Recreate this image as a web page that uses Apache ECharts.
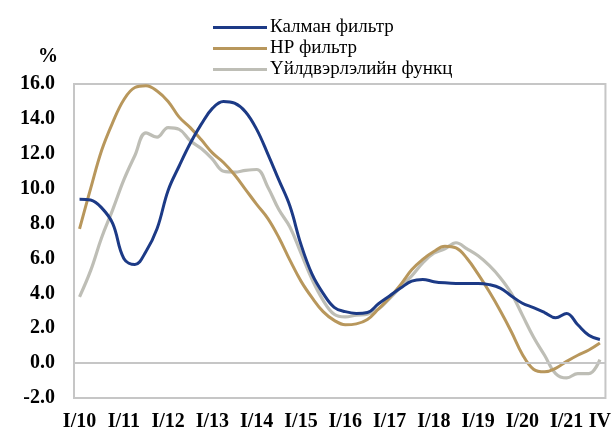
<!DOCTYPE html>
<html>
<head>
<meta charset="utf-8">
<script src="https://cdn.jsdelivr.net/npm/echarts@6/dist/echarts.min.js"></script>
<style>
  html, body { margin: 0; padding: 0; background: #ffffff; }
  #chart { width: 614px; height: 432px; }
</style>
</head>
<body>
<div id="chart"></div>
<script>
// Quarterly periods I/10 ... IV/21
const years = ['10','11','12','13','14','15','16','17','18','19','20','21'];
const quarterNames = ['I', 'II', 'III', 'IV'];
const categories = [];
years.forEach(y => quarterNames.forEach(q => categories.push(q + '/' + y)));

// Output gap estimates, %
const kalman = [
  9.4, 9.35, 8.9, 8.0, 6.0, 5.65, 6.4, 7.7, 9.9, 11.3, 12.6, 13.7,
  14.6, 15.0, 14.9, 14.4, 13.4, 12.0, 10.5, 9.0, 6.8, 5.1, 4.0, 3.2,
  2.95, 2.85, 2.9, 3.4, 3.85, 4.3, 4.7, 4.8, 4.67, 4.6, 4.57, 4.57,
  4.57, 4.5, 4.3, 3.85, 3.43, 3.18, 2.9, 2.6, 2.85, 2.2, 1.6, 1.35
];
const hpFilter = [
  7.7, 10.0, 12.2, 13.8, 15.1, 15.8, 15.9, 15.6, 15.0, 14.1, 13.5, 12.8,
  12.05, 11.5, 10.8, 9.95, 9.1, 8.3, 7.2, 5.9, 4.7, 3.75, 2.95, 2.45,
  2.2, 2.25, 2.5, 3.1, 3.75, 4.5, 5.35, 5.95, 6.4, 6.7, 6.6, 6.0,
  5.1, 4.1, 3.0, 1.8, 0.5, -0.35, -0.5, -0.3, 0.1, 0.45, 0.75, 1.15
];
const productionFn = [
  3.8, 5.3, 7.2, 8.8, 10.5, 11.9, 13.2, 12.95, 13.5, 13.4, 12.75, 12.3,
  11.7, 11.0, 10.95, 11.05, 11.1, 10.1, 8.8, 7.8, 6.3, 4.8, 3.6, 2.8,
  2.65, 2.75, 2.8, 3.1, 3.7, 4.35, 5.0, 5.75, 6.3, 6.55, 6.9, 6.55,
  6.15, 5.6, 4.9, 4.0, 2.75, 1.5, 0.45, -0.6, -0.85, -0.6, -0.6, 0.2
];

const seriesNames = ['Калман фильтр', 'HP фильтр', 'Үйлдвэрлэлийн функц'];
const colors = ['#1c3a86', '#b8975c', '#bebeb6'];

const serif = "'Liberation Serif', 'Times New Roman', serif";
const lastIdx = categories.length - 1;

const chart = echarts.init(document.getElementById('chart'), null, { renderer: 'canvas' });

chart.setOption({
  animation: false,
  backgroundColor: '#ffffff',
  title: {
    text: '%',
    left: 33,
    top: 42,
    textStyle: { fontFamily: serif, fontWeight: 'bold', fontSize: 20, color: '#000' }
  },
  legend: {
    orient: 'vertical',
    left: 208,
    top: 12,
    itemWidth: 54,
    itemHeight: 3,
    itemGap: 0,
    icon: 'rect',
    data: seriesNames,
    textStyle: { fontFamily: serif, fontSize: 19, color: '#000', lineHeight: 21, padding: [0, 0, 0, -2] }
  },
  grid: {
    left: 74, right: 6, top: 84, bottom: 33,
    show: true,
    borderColor: '#c6c6c6',
    borderWidth: 2,
    backgroundColor: 'transparent'
  },
  xAxis: {
    type: 'category',
    data: categories,
    boundaryGap: true,
    axisLine: { show: false, onZero: false },
    axisTick: { show: false },
    splitLine: { show: false },
    axisLabel: {
      interval: (idx) => idx % 4 === 0 || idx === lastIdx,
      showMaxLabel: true,
      hideOverlap: false,
      // the closing quarter is shown by its quarter numeral only
      formatter: (v, idx) => idx === lastIdx ? v.split('/')[0] : v,
      fontFamily: serif,
      fontWeight: 'bold',
      fontSize: 20,
      color: '#000',
      margin: 14
    }
  },
  yAxis: {
    type: 'value',
    min: -2,
    max: 16,
    interval: 2,
    axisLine: { show: false },
    axisTick: { show: false },
    splitLine: { show: false },
    axisLabel: {
      formatter: (v) => v.toFixed(1),
      fontFamily: serif,
      fontWeight: 'bold',
      fontSize: 20,
      color: '#000',
      margin: 19
    }
  },
  series: [
    {
      name: seriesNames[2], type: 'line', data: productionFn, smooth: 0.4,
      showSymbol: false, color: colors[2], lineStyle: { width: 3.2, color: colors[2] },
      markLine: {
        silent: true, symbol: 'none', label: { show: false },
        lineStyle: { color: '#c6c6c6', width: 2, type: 'solid' },
        data: [{ yAxis: 0 }]
      }
    },
    {
      name: seriesNames[1], type: 'line', data: hpFilter, smooth: 0.4,
      showSymbol: false, color: colors[1], lineStyle: { width: 3, color: colors[1] }
    },
    {
      name: seriesNames[0], type: 'line', data: kalman, smooth: 0.4,
      showSymbol: false, color: colors[0], lineStyle: { width: 3, color: colors[0] }
    }
  ]
});
</script>
</body>
</html>
